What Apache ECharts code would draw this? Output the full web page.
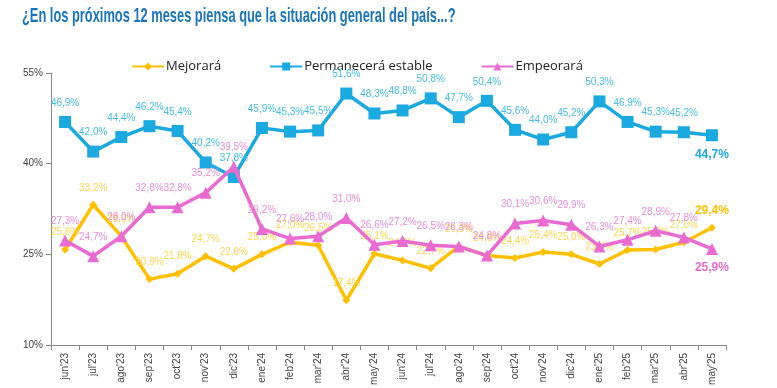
<!DOCTYPE html>
<html><head><meta charset="utf-8">
<script src="https://cdn.jsdelivr.net/npm/echarts@6/dist/echarts.min.js"></script>
<style>html,body{margin:0;padding:0;background:#fff}#c{width:777px;height:388px}</style>
</head><body><div id="c"></div>
<script>
const categories = ["jun'23","jul'23","ago'23","sep'23","oct'23","nov'23","dic'23","ene'24","feb'24","mar'24","abr'24","may'24","jun'24","jul'24","ago'24","sep'24","oct'24","nov'24","dic'24","ene'25","feb'25","mar'25","abr'25","may'25"];
const mejorara = [25.8,33.2,28.0,20.9,21.8,24.7,22.6,25.0,27.0,26.5,17.4,25.1,24.0,22.7,26.3,24.8,24.4,25.4,25.0,23.4,25.7,25.8,27.0,29.4];
const permanecera = [46.9,42.0,44.4,46.2,45.4,40.2,37.8,45.9,45.3,45.5,51.6,48.3,48.8,50.8,47.7,50.4,45.6,44.0,45.2,50.3,46.9,45.3,45.2,44.7];
const empeorara = [27.3,24.7,28.0,32.8,32.8,35.2,39.5,29.2,27.6,28.0,31.0,26.6,27.2,26.5,26.3,24.8,30.1,30.6,29.9,26.3,27.4,28.9,27.8,25.9];
const yTicks = [10,25,40,55];
const titleText = '¿En los próximos 12 meses piensa que la situación general del país...?';

const fmt = v => v.toFixed(1).replace('.', ',') + '%';
function mk(arr, lastPos, lastColor){
  return arr.map((v,i)=>{
    const o = {value:v};
    if(i===arr.length-1){
      o.label = {position:lastPos, fontSize:12, fontWeight:'bold', color:lastColor, distance:7};
    }
    return o;
  });
}
const chart = echarts.init(document.getElementById('c'));
chart.setOption({
  animation:false,
  graphic:[{type:'text', left:22, top:6, scaleX:0.612, scaleY:1, originX:22, originY:0,
    style:{text:titleText, font:'bold 21px "Liberation Sans"', fill:'#1B75BC'}}],
  legend:{top:55, left:126, itemGap:48, itemWidth:32, itemHeight:10,
    textStyle:{fontFamily:'Open Sans', fontSize:13, color:'#222', padding:[0,0,0,-3]},
    data:['Mejorará','Permanecerá estable','Empeorará']},
  grid:{left:51, right:51, top:73, bottom:43},
  xAxis:{type:'category', data:categories, boundaryGap:true,
    axisLine:{lineStyle:{color:'#888'}}, axisTick:{show:true, interval:0, lineStyle:{color:'#888'}},
    axisLabel:{rotate:90, interval:0, fontSize:10, color:'#444', fontFamily:'Liberation Sans', margin:8}},
  yAxis:{type:'value', min:10, max:55, interval:15,
    axisLine:{show:true, lineStyle:{color:'#888'}}, axisTick:{show:true, lineStyle:{color:'#888'}},
    splitLine:{show:false},
    axisLabel:{formatter: v=> yTicks.includes(v)? v+'%':'', fontSize:10, color:'#444', fontFamily:'Liberation Sans'}},
  series:[
    {name:'Mejorará', type:'line', data:mk(mejorara,'top','#FFC000'), symbol:'diamond', symbolSize:8,
     lineStyle:{width:3.5, color:'#FFC000'}, itemStyle:{color:'#FFC000'}, z:3,
     label:{show:true, position:'top', distance:8, formatter:p=>fmt(p.value), fontSize:10, color:'#FFD54F', fontFamily:'Liberation Sans'}},
    {name:'Permanecerá estable', type:'line', data:mk(permanecera,'bottom','#1BA9E1'), symbol:'rect', symbolSize:12,
     lineStyle:{width:3.5, color:'#1BA9E1'}, itemStyle:{color:'#1BA9E1'}, z:4,
     label:{show:true, position:'top', distance:8, formatter:p=>fmt(p.value), fontSize:10, color:'#45BDE8', fontFamily:'Liberation Sans'}},
    {name:'Empeorará', type:'line', data:mk(empeorara,'bottom','#E96BD1'), symbol:'triangle', symbolSize:12,
     lineStyle:{width:3.5, color:'#E96BD1'}, itemStyle:{color:'#E96BD1'}, z:5,
     label:{show:true, position:'top', distance:8, formatter:p=>fmt(p.value), fontSize:10, color:'#EC8ED9', fontFamily:'Liberation Sans'}}
  ]
});
</script></body></html>
